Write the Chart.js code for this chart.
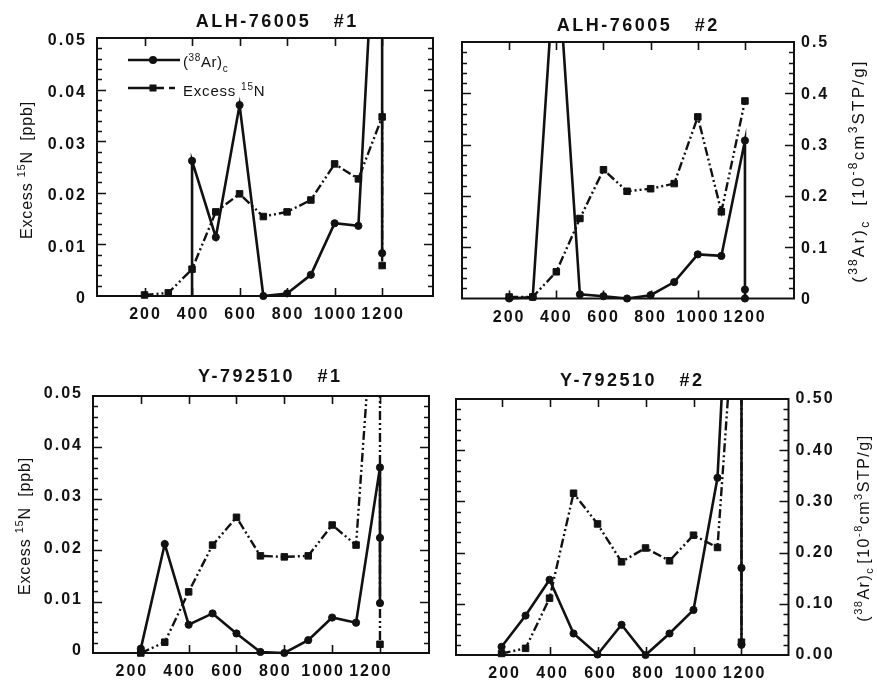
<!DOCTYPE html>
<html>
<head>
<meta charset="utf-8">
<title>Excess 15N and (38Ar)c release profiles</title>
<script src="https://cdn.jsdelivr.net/npm/chart.js@4.4.1/dist/chart.umd.min.js"></script>
<style>
  html, body { margin: 0; padding: 0; background: #fff; }
  #page { position: relative; width: 877px; height: 683px; overflow: hidden; }
  #page canvas { position: absolute; }
</style>
</head>
<body>
<div id="page">
  <canvas id="c1" width="445" height="345" style="left:0;top:0"></canvas>
  <canvas id="c2" width="432" height="345" style="left:445px;top:0"></canvas>
  <canvas id="c3" width="445" height="338" style="left:0;top:345px"></canvas>
  <canvas id="c4" width="432" height="338" style="left:445px;top:345px"></canvas>
</div>
<script>
(function () {
  'use strict';

  // step temperatures (deg C) and released amounts
  // (38Ar)c in 1e-8 cm3 STP/g (right axis), excess 15N in ppb (left axis)

  // ALH-76005 #1
  const ALH1_AR_T = [400, 400, 500, 600, 700, 800, 900, 1000, 1100, 1200, 1200];
  const ALH1_AR = [0, 0.262, 0.114, 0.37, 0, 0.005, 0.041, 0.141, 0.136, 1.0, 0.083];
  const ALH1_N_T = [200, 300, 400, 500, 600, 700, 800, 900, 1000, 1100, 1200, 1200];
  const ALH1_N = [0.0002, 0.0006, 0.0052, 0.0163, 0.0198, 0.0154, 0.0163, 0.0186, 0.0256, 0.0227, 0.0347, 0.0059];

  // ALH-76005 #2
  const ALH2_AR_T = [200, 300, 400, 500, 600, 700, 800, 900, 1000, 1100, 1200, 1200, 1200];
  const ALH2_AR = [0, 0.003, 0.7, 0.008, 0.0045, 0, 0.0065, 0.032, 0.086, 0.083, 0.308, 0.0175, 0];
  const ALH2_N_T = [200, 300, 400, 500, 600, 700, 800, 900, 1000, 1100, 1200];
  const ALH2_N = [0.0003, 0.0003, 0.0052, 0.0156, 0.0251, 0.0209, 0.0214, 0.0224, 0.0354, 0.0169, 0.0385];

  // Y-792510 #1
  const Y1_AR_T = [200, 300, 400, 500, 600, 700, 800, 900, 1000, 1100, 1200, 1200, 1200];
  const Y1_AR = [0.0085, 0.212, 0.055, 0.077, 0.038, 0.002, 0, 0.025, 0.069, 0.059, 0.361, 0.224, 0.097];
  const Y1_N_T = [200, 300, 400, 500, 600, 700, 800, 900, 1000, 1100, 1200, 1200];
  const Y1_N = [0, 0.0021, 0.0119, 0.021, 0.0264, 0.0189, 0.0187, 0.0189, 0.0249, 0.021, 0.087, 0.0017];

  // Y-792510 #2
  const Y2_AR_T = [200, 300, 400, 500, 600, 700, 800, 900, 1000, 1100, 1200, 1200, 1200];
  const Y2_AR = [0.016, 0.077, 0.147, 0.042, 0.001, 0.059, 0, 0.042, 0.088, 0.346, 1.25, 0.17, 0.02];
  const Y2_N_T = [200, 300, 400, 500, 600, 700, 800, 900, 1000, 1100, 1200, 1200];
  const Y2_N = [0.0003, 0.0013, 0.0111, 0.0316, 0.0256, 0.0182, 0.0209, 0.0184, 0.0234, 0.021, 0.088, 0.0025];

  const TEMP_TICKS = [200, 400, 600, 800, 1000, 1200];
  const TEMP_LABELS = ['200', '400', '600', '800', '1000', '1200'];
  const N_TICKS = [0, 0.01, 0.02, 0.03, 0.04, 0.05];
  const N_LABELS = ['0', '0.01', '0.02', '0.03', '0.04', '0.05'];
  const AR_TICKS = [0, 0.1, 0.2, 0.3, 0.4, 0.5];
  const AR_LABELS = ['0', '0.1', '0.2', '0.3', '0.4', '0.5'];
  const AR_LABELS_2DP = ['0.00', '0.10', '0.20', '0.30', '0.40', '0.50'];

  const INK = '#111';
  const FAMILY = '"Liberation Sans", Arial, Helvetica, sans-serif';
  const N_DASH = [9, 3, 2, 3, 2, 3];
  const TICK_FONT = { family: 'Liberation Sans', size: 16, weight: 'bold' };

  // axis titles with super/subscripts: s = 1 sup, -1 sub, gap = extra space in px
  const N_TITLE = [{ t: 'Excess ' }, { t: '15', s: 1 }, { t: 'N  [ppb]' }];
  const arTitle = (gap) => [
    { t: '(' }, { t: '38', s: 1 }, { t: 'Ar)' }, { t: 'c', s: -1 }, { gap },
    { t: '[10' }, { t: '-8', s: 1 }, { t: 'cm' }, { t: '3', s: 1 }, { t: 'STP/g]' },
  ];

  const PANELS = [
    {
      id: 'c1', title: 'ALH-76005   #1', origin: [0, 0],
      plot: { left: 97, top: 38, right: 433, bottom: 296 },
      xMin: 0, xMax: 1414, xShift: 1,
      left: { labels: N_LABELS, shift: 3 }, right: null,
      titleAt: [276, 21], leftTitleAt: [26, 170], legend: true, arHideFirst: true,
      ar: [ALH1_AR_T, ALH1_AR], n: [ALH1_N_T, ALH1_N],
    },
    {
      id: 'c2', title: 'ALH-76005   #2', origin: [445, 0],
      plot: { left: 462, top: 42, right: 794, bottom: 298.5 },
      xMin: 0, xMax: 1408, xShift: 0,
      left: null, right: { labels: AR_LABELS, shift: 1 },
      titleAt: [637, 25], rightTitle: { at: [858, 171], size: 17, ls: 2.2, gap: 14 },
      ar: [ALH2_AR_T, ALH2_AR], n: [ALH2_N_T, ALH2_N],
    },
    {
      id: 'c3', title: 'Y-792510   #1', origin: [0, 345],
      plot: { left: 93, top: 396, right: 429, bottom: 653 },
      xMin: 0, xMax: 1405, xShift: -9,
      left: { labels: N_LABELS, shift: -2 }, right: null,
      titleAt: [269, 376], leftTitleAt: [24, 526],
      ar: [Y1_AR_T, Y1_AR], n: [Y1_N_T, Y1_N],
    },
    {
      id: 'c4', title: 'Y-792510   #2', origin: [445, 345],
      plot: { left: 456, top: 399, right: 788.5, bottom: 655 },
      xMin: 10, xMax: 1396, xShift: 3,
      left: null, right: { labels: AR_LABELS_2DP, shift: 0 },
      titleAt: [631, 380], rightTitle: { at: [863, 528], size: 16, ls: 1.5, gap: 3 },
      ar: [Y2_AR_T, Y2_AR], n: [Y2_N_T, Y2_N],
    },
  ];

  function toPoints(xs, ys) {
    return xs.map((x, i) => ({ x, y: ys[i] }));
  }

  function fixedTicks(values) {
    return (scale) => { scale.ticks = values.map((value) => ({ value })); };
  }

  // draws a run of text pieces centred (or left-aligned) on x, cap-centred on y
  function drawRich(ctx, parts, x, y, opt) {
    const size = opt.size;
    const small = Math.round(size * 0.68);
    const fontOf = (p) => `${opt.weight || 'normal'} ${p.s ? small : size}px ${FAMILY}`;

    ctx.save();
    ctx.translate(x, y);
    ctx.rotate(opt.angle || 0);
    ctx.letterSpacing = (opt.ls || 0) + 'px';
    ctx.fillStyle = INK;
    ctx.textAlign = 'left';
    ctx.textBaseline = 'alphabetic';

    let width = 0;
    for (const p of parts) {
      if (p.gap !== undefined) { width += p.gap; continue; }
      ctx.font = fontOf(p);
      width += ctx.measureText(p.t).width;
    }

    let cx = opt.align === 'left' ? 0 : -width / 2;
    const base = size * 0.36;
    for (const p of parts) {
      if (p.gap !== undefined) { cx += p.gap; continue; }
      ctx.font = fontOf(p);
      const dy = p.s === 1 ? -size * 0.42 : p.s === -1 ? size * 0.28 : 0;
      ctx.fillText(p.t, cx, base + dy);
      cx += ctx.measureText(p.t).width;
    }
    ctx.restore();
  }

  function drawFrame(chart) {
    const { ctx, chartArea: a, scales } = chart;
    ctx.save();
    ctx.strokeStyle = INK;
    ctx.lineWidth = 2;
    ctx.strokeRect(a.left, a.top, a.right - a.left, a.bottom - a.top);

    // inward ticks on all four sides
    ctx.lineWidth = 1.6;
    ctx.beginPath();
    for (const v of TEMP_TICKS) {
      const px = Math.round(scales.x.getPixelForValue(v)) + 0.5;
      ctx.moveTo(px, a.top);
      ctx.lineTo(px, a.top + 8);
      ctx.moveTo(px, a.bottom);
      ctx.lineTo(px, a.bottom - 8);
    }
    for (let i = 1; i < 25; i++) {
      const len = i % 5 === 0 ? 9 : 5;
      const yl = Math.round(scales.yL.getPixelForValue(i * 0.002)) + 0.5;
      ctx.moveTo(a.left, yl);
      ctx.lineTo(a.left + len, yl);
      const yr = Math.round(scales.yR.getPixelForValue(i * 0.02)) + 0.5;
      ctx.moveTo(a.right, yr);
      ctx.lineTo(a.right - len, yr);
    }
    ctx.stroke();
    ctx.restore();
  }

  function drawLegend(ctx) {
    ctx.save();
    ctx.strokeStyle = INK;
    ctx.fillStyle = INK;
    ctx.lineWidth = 2.5;

    ctx.beginPath();
    ctx.moveTo(128, 60);
    ctx.lineTo(180, 60);
    ctx.stroke();
    ctx.beginPath();
    ctx.arc(153, 60, 4, 0, Math.PI * 2);
    ctx.fill();

    ctx.beginPath();
    ctx.moveTo(128, 88);
    ctx.lineTo(164, 88);
    ctx.moveTo(169, 88);
    ctx.lineTo(175, 88);
    ctx.stroke();
    ctx.fillRect(149.5, 84.5, 7, 7);
    ctx.restore();

    drawRich(ctx, [{ t: '(' }, { t: '38', s: 1 }, { t: 'Ar)' }, { t: 'c', s: -1 }],
      183, 62, { size: 15, ls: 0.6, align: 'left' });
    drawRich(ctx, [{ t: 'Excess ' }, { t: '15', s: 1 }, { t: 'N' }],
      183, 91, { size: 15, ls: 0.8, align: 'left' });
  }

  function decorFor(p) {
    const [ox, oy] = p.origin;
    return {
      id: 'decor',
      beforeDraw(chart) {
        chart.ctx.letterSpacing = '2px';
      },
      afterDraw(chart) {
        const ctx = chart.ctx;
        drawFrame(chart);

        drawRich(ctx, [{ t: p.title }], p.titleAt[0] - ox + 1.2, p.titleAt[1] - oy,
          { size: 18, ls: 2.5, weight: 'bold' });

        if (p.leftTitleAt) {
          drawRich(ctx, N_TITLE, p.leftTitleAt[0] - ox, p.leftTitleAt[1] - oy,
            { size: 16, ls: 0.8, angle: -Math.PI / 2 });
        }
        if (p.rightTitle) {
          const r = p.rightTitle;
          drawRich(ctx, arTitle(r.gap), r.at[0] - ox, r.at[1] - oy,
            { size: r.size, ls: r.ls, angle: -Math.PI / 2 });
        }
        if (p.legend) drawLegend(ctx);
      },
    };
  }

  function yScale(position, max, ticks, side) {
    return {
      type: 'linear',
      position,
      min: 0,
      max,
      afterBuildTicks: fixedTicks(ticks),
      afterFit: (s) => { s.width = side ? 52 : 0; },
      grid: { display: false, drawTicks: false },
      border: { display: false },
      ticks: {
        display: !!side,
        autoSkip: false,
        color: INK,
        padding: position === 'left' ? 10 : 7,
        labelOffset: side ? side.shift : 0,
        font: TICK_FONT,
        callback: (v, i) => (side ? side.labels[i] : ''),
      },
    };
  }

  function buildChart(p) {
    const canvas = document.getElementById(p.id);
    const [ox, oy] = p.origin;
    const leftW = p.left ? 52 : 0;
    const rightW = p.right ? 52 : 0;
    const axisH = 25;

    const arSet = {
      label: '(38Ar)c',
      data: toPoints(p.ar[0], p.ar[1]),
      yAxisID: 'yR',
      borderColor: INK,
      borderWidth: 2.6,
      pointStyle: 'circle',
      // the ALH-76005 #1 trace rises straight off the baseline at 400
      pointRadius: (c) => (p.arHideFirst && c.dataIndex === 0 ? 0 : 3.6),
      pointBackgroundColor: INK,
      pointBorderColor: INK,
      pointBorderWidth: 1,
      clip: { left: 6, right: 6, top: 1, bottom: 6 },
    };
    const nSet = {
      label: 'Excess 15N',
      data: toPoints(p.n[0], p.n[1]),
      yAxisID: 'yL',
      borderColor: INK,
      borderWidth: 2.4,
      borderDash: N_DASH,
      pointStyle: 'rect',
      pointRadius: 4.6,
      pointBackgroundColor: INK,
      pointBorderColor: INK,
      pointBorderWidth: 1,
      clip: { left: 6, right: 6, top: 1, bottom: 6 },
    };

    return new Chart(canvas, {
      type: 'line',
      data: { datasets: [nSet, arSet] },
      options: {
        responsive: false,
        animation: false,
        events: [],
        parsing: false,
        layout: {
          padding: {
            left: p.plot.left - ox - leftW,
            right: ox + canvas.width - p.plot.right - rightW,
            top: p.plot.top - oy,
            bottom: oy + canvas.height - p.plot.bottom - axisH,
          },
        },
        elements: { line: { tension: 0 } },
        plugins: { legend: { display: false }, tooltip: { enabled: false } },
        scales: {
          x: {
            type: 'linear',
            position: 'bottom',
            min: p.xMin,
            max: p.xMax,
            afterBuildTicks: fixedTicks(TEMP_TICKS),
            afterFit: (s) => { s.height = axisH; },
            grid: { display: false, drawTicks: false },
            border: { display: false },
            ticks: {
              autoSkip: false,
              maxRotation: 0,
              color: INK,
              padding: 9,
              labelOffset: p.xShift,
              font: TICK_FONT,
              callback: (v, i) => TEMP_LABELS[i],
            },
          },
          yL: yScale('left', 0.05, N_TICKS, p.left),
          yR: yScale('right', 0.5, AR_TICKS, p.right),
        },
      },
      plugins: [decorFor(p)],
    });
  }

  PANELS.forEach(buildChart);
})();
</script>
</body>
</html>
